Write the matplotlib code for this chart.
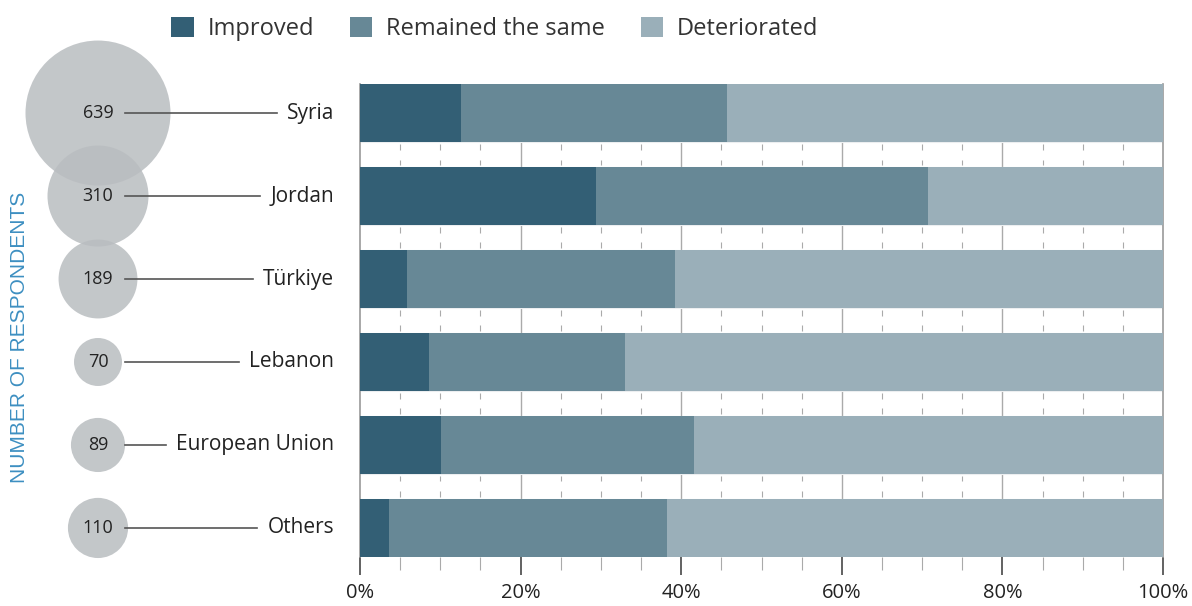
import matplotlib
matplotlib.use("Agg")
import matplotlib.pyplot as plt
from matplotlib.patches import Patch
import numpy as np

plt.rcParams['font.family'] = ['Open Sans', 'DejaVu Sans']

countries = ["Syria", "Jordan", "Türkiye", "Lebanon", "European Union", "Others"]
respondents = [639, 310, 189, 70, 89, 110]
improved = [12.6, 29.4, 5.9, 8.6, 10.1, 3.6]
remained = [33.1, 41.3, 33.3, 24.4, 31.5, 34.6]
deteriorated = [54.3, 29.3, 60.8, 67.0, 58.4, 61.8]
series_names = ["Improved", "Remained the same", "Deteriorated"]
colors = ["#335f75", "#678896", "#9aafb9"]
xticks = [0, 20, 40, 60, 80, 100]
xticklabels = ["0%", "20%", "40%", "60%", "80%", "100%"]

W, H = 1192, 606
fig = plt.figure(figsize=(W / 100, H / 100), dpi=100)
left, right = 360 / W, 1163 / W
bottom, top = (H - 557) / H, (H - 84) / H
ax = fig.add_axes([left, bottom, right - left, top - bottom])

y = np.arange(len(countries))
bh = 0.70
lefts = np.zeros(len(countries))
for vals, c, name in zip([improved, remained, deteriorated], colors, series_names):
    ax.barh(y, vals, left=lefts, height=bh, color=c, label=name, zorder=3)
    lefts = lefts + np.array(vals)

ax.set_xlim(0, 100)
ax.set_ylim(len(countries) - 1 + bh / 2, -bh / 2)
ax.set_yticks([])
ax.set_xticks(xticks)
ax.set_xticklabels(xticklabels, fontsize=14.5, color="#222222")
minor = [v for v in range(0, 101, 5) if v % 20 != 0]
ax.set_xticks(minor, minor=True)
ax.tick_params(axis="x", which="major", length=13, width=1.3, color="#555555", pad=6)
ax.tick_params(axis="x", which="minor", length=9, width=0.8, color="#aaaaaa")
for s in ["top", "bottom"]:
    ax.spines[s].set_visible(False)
for s in ["left", "right"]:
    ax.spines[s].set_color("#999999")
    ax.spines[s].set_linewidth(1.2)
for xv in xticks[1:-1]:
    ax.axvline(xv, color="#aaaaaa", lw=1.0, zorder=1)
# small marks inside gaps
for i in range(len(countries) - 1):
    g0 = i + bh / 2
    g1 = i + 1 - bh / 2
    gl = g1 - g0
    ax.vlines(minor, g0 + 0.02 * gl / 0.3, g0 + 0.09 * gl / 0.3, color="#aaaaaa", lw=0.8, zorder=2)
    ax.vlines(minor, g1 - 0.09 * gl / 0.3, g1 - 0.02 * gl / 0.3, color="#aaaaaa", lw=0.8, zorder=2)
    ax.hlines([g0, g1], 0, 100, color="#eceef0", lw=0.8, zorder=2)

# bubble axes
axb = fig.add_axes([0, bottom, left, top - bottom])
axb.set_xlim(0, 360)
axb.set_ylim(ax.get_ylim())
axb.axis("off")
k = 17.06
axb.scatter([98] * len(countries), y, s=np.array(respondents) * k, color="#b9bdc0",
            alpha=0.85, edgecolors="none", clip_on=False, zorder=1)
texts = []
for i, (c, n) in enumerate(zip(countries, respondents)):
    axb.text(98, i, str(n), ha="center", va="center", fontsize=13, color="#222222", zorder=3)
    t = axb.text(334, i, c, ha="right", va="center", fontsize=15, color="#222222", zorder=3)
    texts.append(t)

fig.canvas.draw()
r = fig.canvas.get_renderer()
inv = axb.transData.inverted()
for i, t in enumerate(texts):
    bb = t.get_window_extent(renderer=r)
    xl = inv.transform((bb.x0, 0))[0]
    axb.plot([125, xl - 10], [i, i], color="#555555", lw=1.2, zorder=2)

fig.text(20 / W, (H - 337) / H, "NUMBER OF RESPONDENTS", rotation=90, ha="center", va="center",
         fontsize=15, color="#3d8fc1", family=["Liberation Sans", "DejaVu Sans"])

handles = [Patch(facecolor=c, edgecolor="none") for c in colors]
fig.legend(handles, series_names, loc="center left", bbox_to_anchor=(150 / W, (H - 29) / H),
           ncol=3, frameon=False, fontsize=17, handlelength=0.95, handleheight=0.95,
           handletextpad=0.6, columnspacing=1.5, labelcolor="#333333")

fig.savefig("out.png", dpi=100)
